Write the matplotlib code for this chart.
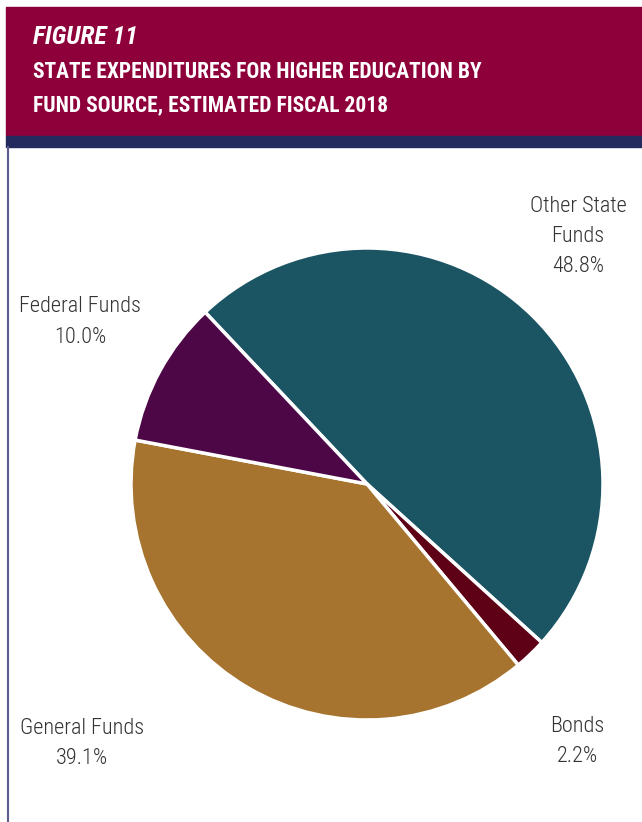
import matplotlib.pyplot as plt
from matplotlib import font_manager
from matplotlib.patches import Rectangle
from matplotlib.lines import Line2D

# fund sources, clockwise from the top-left boundary
labels = [["Other State", "Funds"], ["Bonds"], ["General Funds"], ["Federal Funds"]]
shares = [48.8, 2.2, 39.1, 10.0]
colors = ["#1b5563", "#5e0016", "#a6742f", "#4d0747"]

# pick the narrowest face that is installed
installed = {f.name for f in font_manager.fontManager.ttflist}
fam = "DejaVu Sans"
for name in ["Roboto Condensed", "Liberation Sans Narrow", "Open Sans Condensed", "Noto Sans Condensed"]:
    if name in installed:
        fam = name
        break
plt.rcParams["font.family"] = [fam, "DejaVu Sans"]
plt.rcParams["font.stretch"] = "condensed"

fig = plt.figure(figsize=(6.42, 8.22), dpi=100)
W, H = 642, 822

# header band
fig.patches.append(Rectangle((6 / W, 1 - 136 / H), 1, 129 / H, transform=fig.transFigure,
                             color="#8e003a", zorder=0))
fig.patches.append(Rectangle((6 / W, 1 - 147 / H), 1, 11 / H, transform=fig.transFigure,
                             color="#24295e", zorder=0))
fig.lines.append(Line2D([7.5 / W, 7.5 / W], [0, 1 - 147 / H], transform=fig.transFigure,
                        color="#5b5b8f", lw=1.5))

fig.text(33 / W, 1 - 37 / H, "FIGURE 11", color="white", fontsize=18.5, fontweight="bold",
         fontstyle="italic", va="center", ha="left")
fig.text(33 / W, 1 - 72 / H, "STATE EXPENDITURES FOR HIGHER EDUCATION BY", color="white",
         fontsize=15.5, fontweight="bold", va="center", ha="left")
fig.text(33 / W, 1 - 105 / H, "FUND SOURCE, ESTIMATED FISCAL 2018", color="white",
         fontsize=15.5, fontweight="bold", va="center", ha="left")

# pie
r = 236
cx, cy = 367, 484
ax = fig.add_axes([(cx - r) / W, 1 - (cy + r) / H, 2 * r / W, 2 * r / H])
ax.pie(shares, colors=colors, startangle=133.3, counterclock=False,
       wedgeprops=dict(edgecolor="white", linewidth=2.5))
ax.set_aspect("equal")
ax.set_xlim(-1, 1)
ax.set_ylim(-1, 1)
ax.axis("off")

# labels, one line at a time, 30 px apart
label_pos = [(578, 206), (577, 726), (82, 728), (80, 307)]
for lab, val, (x, y) in zip(labels, shares, label_pos):
    for i, line in enumerate(lab + [f"{val:.1f}%"]):
        fig.text(x / W, 1 - (y + 30 * i) / H, line, color="#333333", fontsize=16,
                 fontweight="light", ha="center", va="center")

fig.savefig("out.png", dpi=100)
